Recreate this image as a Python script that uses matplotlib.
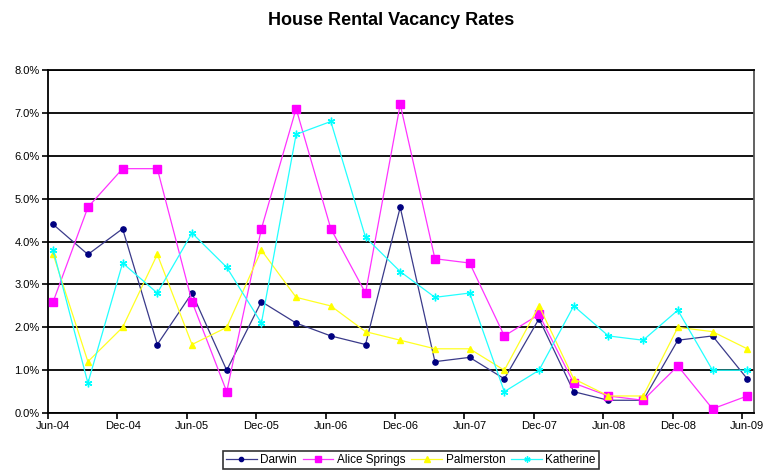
import numpy as np
import matplotlib.pyplot as plt
from matplotlib.ticker import FuncFormatter

plt.rcParams['font.family'] = ['Liberation Sans', 'DejaVu Sans']

# Quarterly vacancy rates (%), Jun-04 .. Jun-09
quarters = ['Jun-04', 'Sep-04', 'Dec-04', 'Mar-05', 'Jun-05', 'Sep-05', 'Dec-05',
            'Mar-06', 'Jun-06', 'Sep-06', 'Dec-06', 'Mar-07', 'Jun-07', 'Sep-07',
            'Dec-07', 'Mar-08', 'Jun-08', 'Sep-08', 'Dec-08', 'Mar-09', 'Jun-09']

darwin = [4.4, 3.7, 4.3, 1.6, 2.8, 1.0, 2.6, 2.1, 1.8, 1.6, 4.8,
          1.2, 1.3, 0.8, 2.2, 0.5, 0.3, 0.3, 1.7, 1.8, 0.8]
alice_springs = [2.6, 4.8, 5.7, 5.7, 2.6, 0.5, 4.3, 7.1, 4.3, 2.8, 7.2,
                 3.6, 3.5, 1.8, 2.3, 0.7, 0.4, 0.3, 1.1, 0.1, 0.4]
palmerston = [3.7, 1.2, 2.0, 3.7, 1.6, 2.0, 3.8, 2.7, 2.5, 1.9, 1.7,
              1.5, 1.5, 1.0, 2.5, 0.8, 0.4, 0.4, 2.0, 1.9, 1.5]
katherine = [3.8, 0.7, 3.5, 2.8, 4.2, 3.4, 2.1, 6.5, 6.8, 4.1, 3.3,
             2.7, 2.8, 0.5, 1.0, 2.5, 1.8, 1.7, 2.4, 1.0, 1.0]

y_ticks = [0, 1, 2, 3, 4, 5, 6, 7, 8]

fig = plt.figure(figsize=(7.68, 4.70), dpi=100)
ax = fig.add_axes([0.0625, 0.121, 0.9195, 0.730])

x = np.arange(len(quarters))

# series: (values, label, line colour, marker colour, marker, size)
series = [
    (darwin, 'Darwin', '#3a3a8a', '#000080', 'o', 3.8),
    (alice_springs, 'Alice Springs', '#FF33FF', '#FF00FF', 's', 5.5),
    (palmerston, 'Palmerston', '#FFFF22', '#FFFF00', '^', 5),
    (katherine, 'Katherine', '#22FFFF', '#00FFFF', (6, 2, 0), 5.5),
]
for vals, label, lcolor, mcolor, marker, ms in series:
    ax.plot(x, vals, color=lcolor, marker=marker, markersize=ms, linewidth=0.9,
            markeredgecolor=mcolor, markerfacecolor=mcolor, markeredgewidth=1,
            label=label, zorder=3)

# Axes limits and grid
ax.set_ylim(0, 8)
ax.set_xlim(-0.15, 20.2)
ax.set_yticks(y_ticks)
ax.yaxis.set_major_formatter(FuncFormatter(lambda v, p: '%.1f%%' % v))
ax.yaxis.grid(True, color='black', linewidth=1.3)
ax.set_axisbelow(True)

# labels sit on the points, tick marks slightly to the left (date axis look)
ax.set_xticks(x[::2])
ax.set_xticklabels(quarters[::2])
ax.set_xticks(x[::2] - 0.15, minor=True)
ax.tick_params(axis='x', which='major', length=0, pad=6, labelsize=8)
ax.tick_params(axis='x', which='minor', length=4, width=1.2, color='black')
ax.tick_params(axis='y', length=4, width=1.2, labelsize=8, pad=2)

for side in ['left', 'bottom', 'top']:
    ax.spines[side].set_color('black')
    ax.spines[side].set_linewidth(1.3)
ax.spines['right'].set_color('#555555')
ax.spines['right'].set_linewidth(1.3)

fig.text(0.509, 0.957, 'House Rental Vacancy Rates', ha='center', va='center',
         fontsize=13, fontweight='bold')

leg = fig.legend(loc='center', bbox_to_anchor=(0.535, 0.021), ncol=4,
                 fontsize=8.5, frameon=True, fancybox=False, edgecolor='black',
                 handlelength=2.6, handletextpad=0.3, columnspacing=0.5,
                 borderpad=0.25, markerscale=0.8)
leg.get_frame().set_linewidth(1.2)

fig.savefig('out.png', dpi=100)
